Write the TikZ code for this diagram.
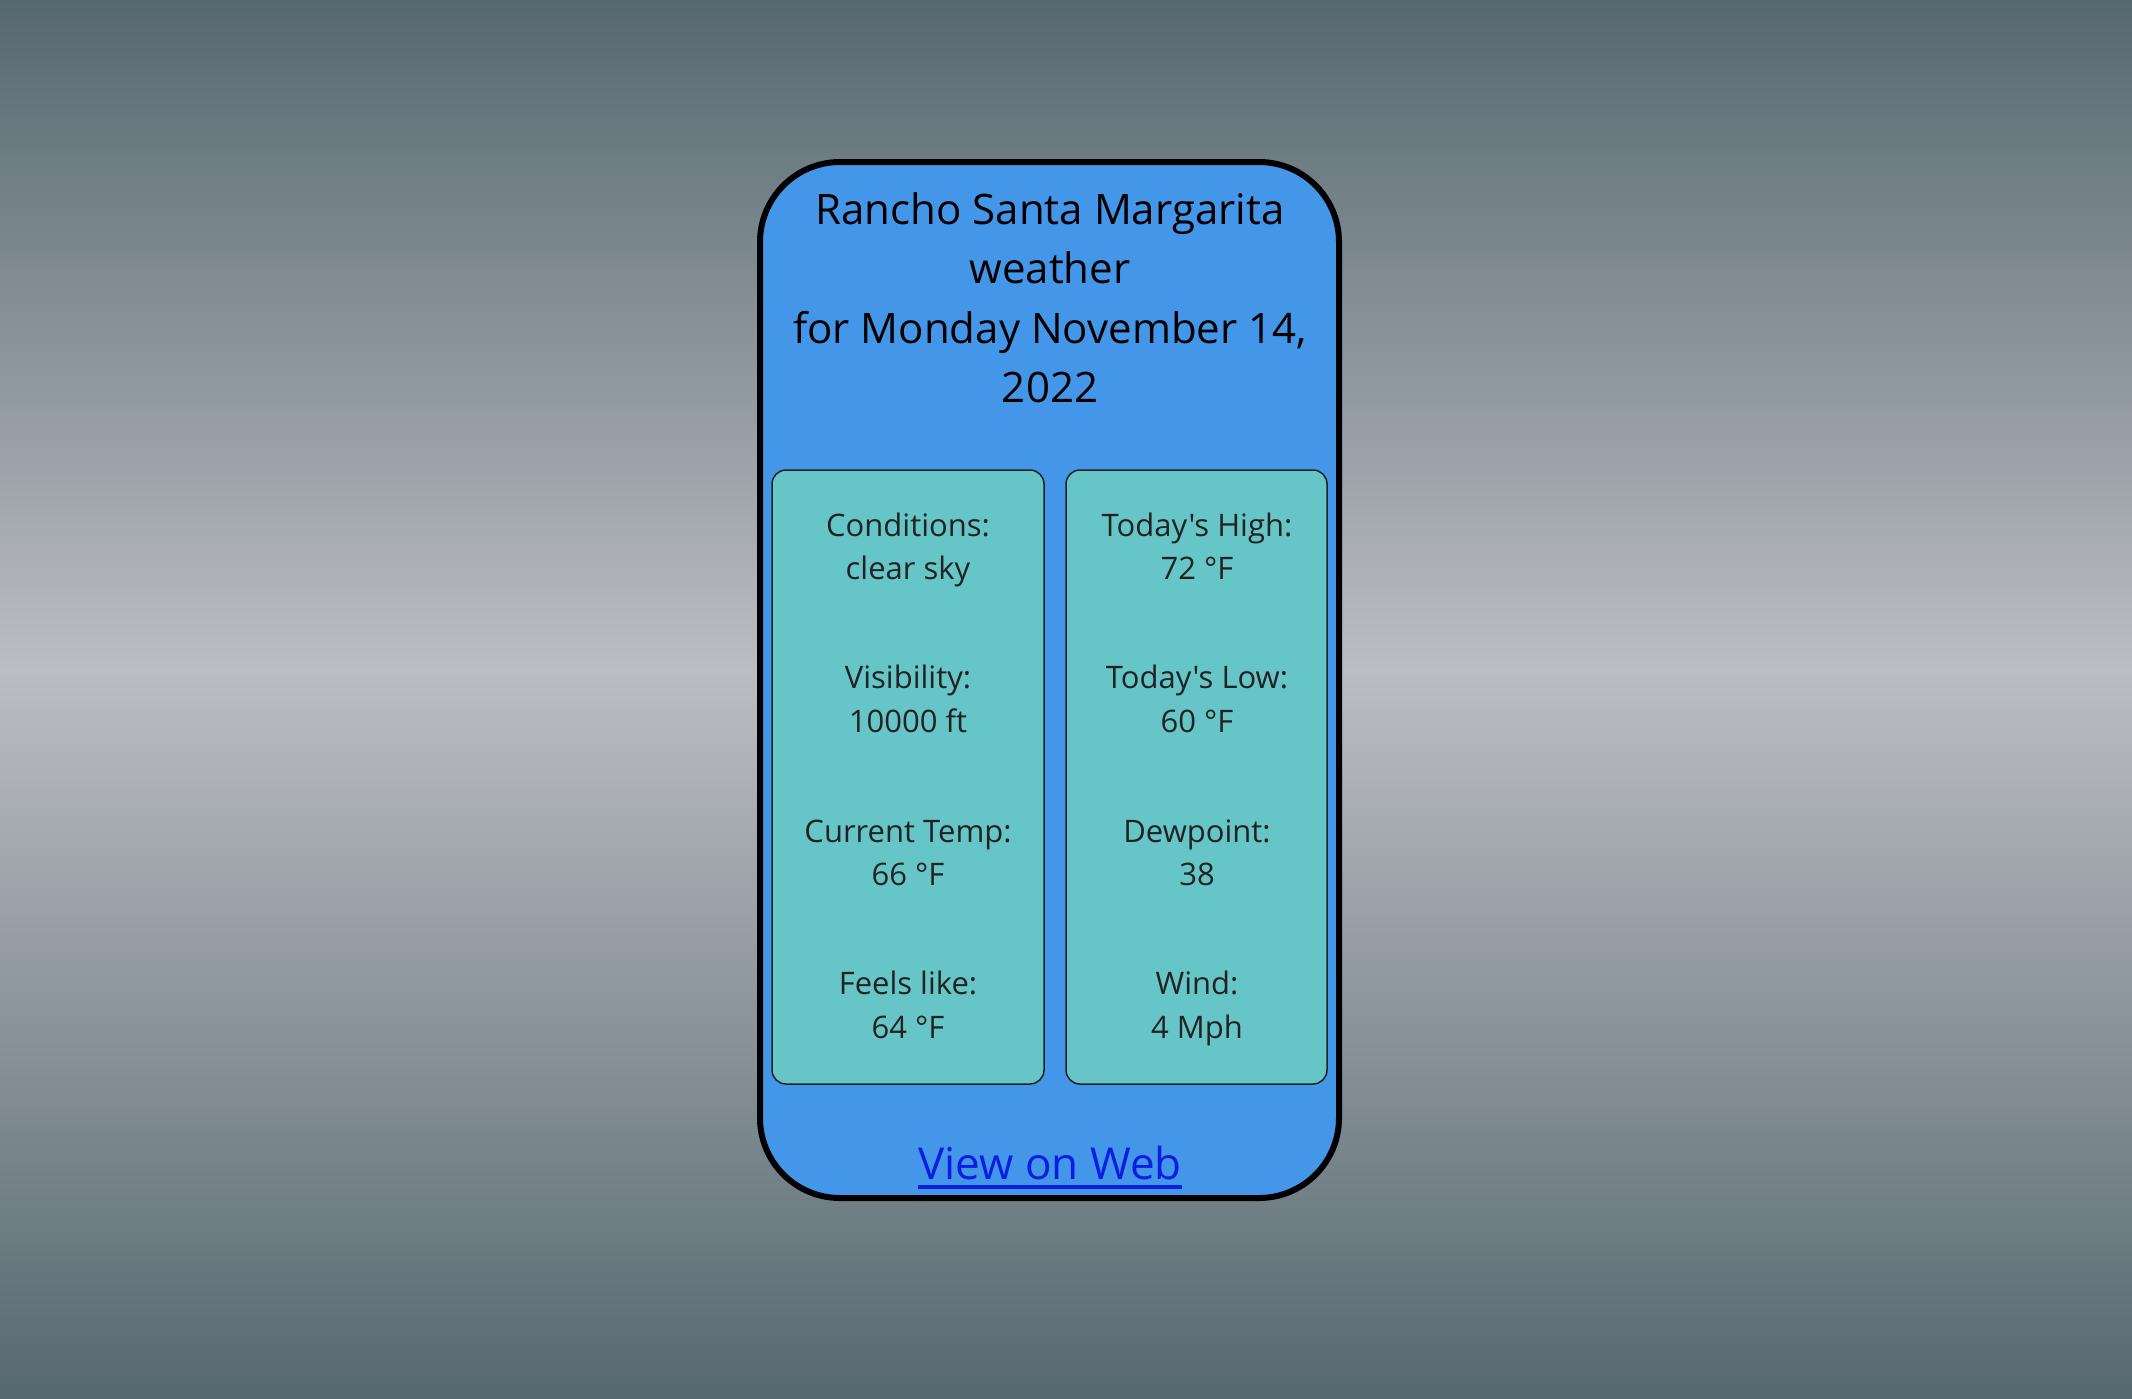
\documentclass[tikz,border=0pt]{standalone}
\usepackage{fontspec}
\setmainfont{Open Sans}[Ligatures=TeXOff]
\definecolor{bgend}{RGB}{86,104,112}
\definecolor{bgmid}{RGB}{188,189,195}
\definecolor{cardfill}{RGB}{68,150,232}
\definecolor{panelfill}{RGB}{102,197,198}
\definecolor{paneltext}{RGB}{34,34,34}
\definecolor{linkblue}{RGB}{10,30,225}
\begin{document}
\begin{tikzpicture}[x=1pt,y=-1pt,
  title/.style={anchor=base,inner sep=0pt,font=\fontsize{42}{50}\selectfont,text=black},
  info/.style={anchor=base,inner sep=0pt,font=\fontsize{31}{37}\selectfont,text=paneltext},
  panelbox/.style={draw=paneltext,line width=1.5pt,fill=panelfill,rounded corners=14pt},
  cardbox/.style={draw=black,line width=6pt,fill=cardfill,rounded corners=80pt}]
\useasboundingbox (0,0) rectangle (2132,1398);
\shade[top color=bgend,bottom color=bgmid] (0,0) rectangle (2132,670);
\shade[top color=bgmid,bottom color=bgend] (0,670) rectangle (2132,1398);
\draw[cardbox] (760,162) rectangle (1339,1198);
\node[title] (t1) at (1050,224) {Rancho Santa Margarita};
\node[title] (t2) at (1050,283) {weather};
\node[title] (t3) at (1050,343) {for Monday November 14,};
\node[title] (t4) at (1050,402) {2022};
\draw[panelbox] (772,470) rectangle (1044,1084);
\draw[panelbox] (1066,470) rectangle (1327,1084);
\node[info] (l1a) at (908,536) {Conditions:};
\node[info] (l1b) at (908,579) {clear sky};
\node[info] (l2a) at (908,688) {Visibility:};
\node[info] (l2b) at (908,732) {10000 ft};
\node[info] (l3a) at (908,842) {Current Temp:};
\node[info] (l3b) at (908,885) {66 °F};
\node[info] (l4a) at (908,994) {Feels like:};
\node[info] (l4b) at (908,1038) {64 °F};
\node[info] (r1a) at (1197,536) {Today's High:};
\node[info] (r1b) at (1197,579) {72 °F};
\node[info] (r2a) at (1197,688) {Today's Low:};
\node[info] (r2b) at (1197,732) {60 °F};
\node[info] (r3a) at (1197,842) {Dewpoint:};
\node[info] (r3b) at (1197,885) {38};
\node[info] (r4a) at (1197,994) {Wind:};
\node[info] (r4b) at (1197,1038) {4 Mph};
\node[title,text=linkblue,font=\fontsize{44}{52}\selectfont] (link) at (1050,1179) {View on Web};
\draw[linkblue,line width=4pt] ([yshift=-8pt]link.base west) -- ([yshift=-8pt]link.base east);
\end{tikzpicture}
\end{document}
